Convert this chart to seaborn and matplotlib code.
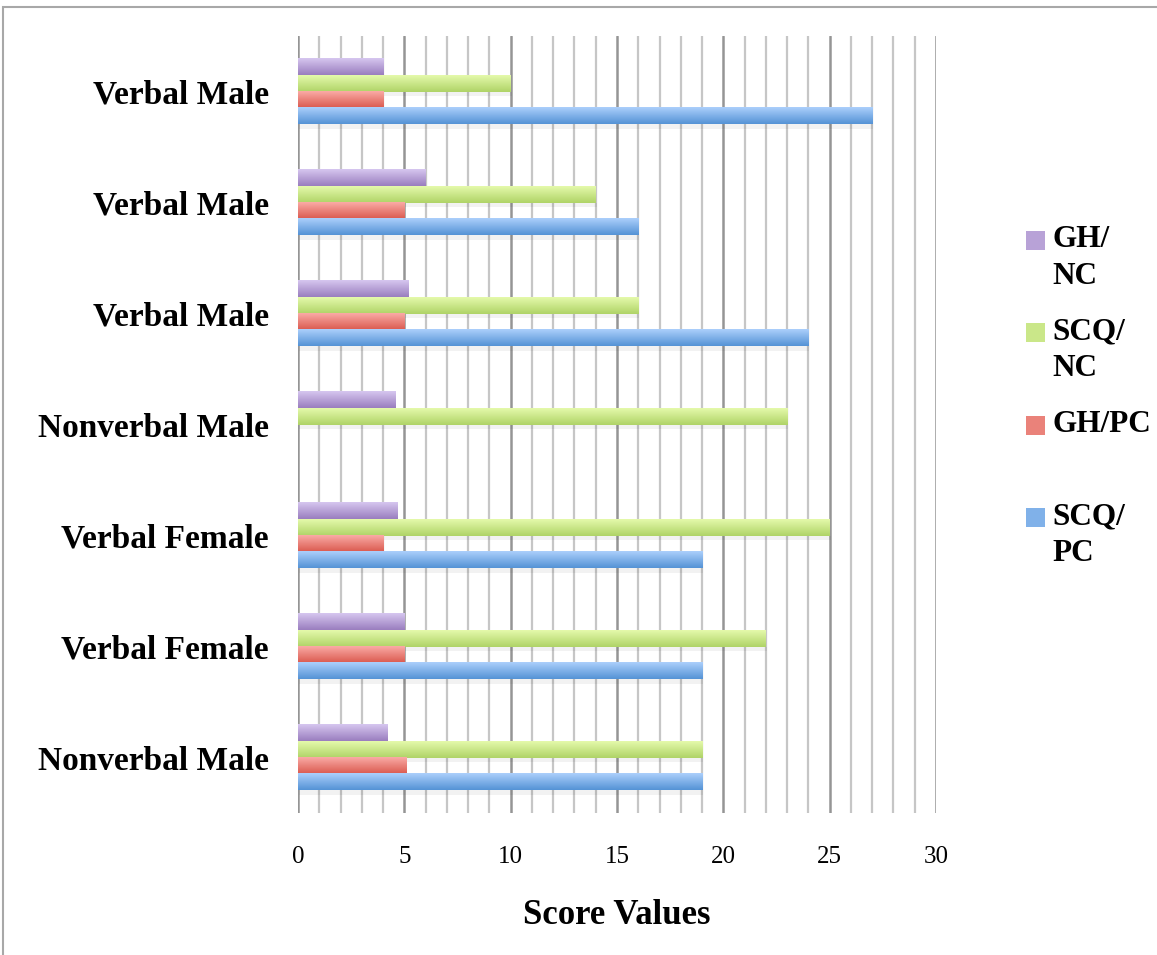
import numpy as np
import pandas as pd
import matplotlib.pyplot as plt
import seaborn as sns
from matplotlib.ticker import MultipleLocator
from matplotlib.patches import Rectangle
from matplotlib.colors import to_rgb

# ==========================================
# DATA
# ==========================================

groups = ["Verbal Male", "Verbal Male", "Verbal Male", "Nonverbal Male",
          "Verbal Female", "Verbal Female", "Nonverbal Male"]
series = ["GH/NC", "SCQ/NC", "GH/PC", "SCQ/PC"]
legend_labels = ["GH/\nNC", "SCQ/\nNC", "GH/PC", "SCQ/\nPC"]

gh_nc = [4, 6, 5.2, 4.6, 4.7, 5, 4.2]
scq_nc = [10, 14, 16, 23, 25, 22, 19]
gh_pc = [4, 5, 5, 0, 4, 5, 5.1]
scq_pc = [27, 16, 24, 0, 19, 19, 19]

x_ticks = [0, 5, 10, 15, 20, 25, 30]

# gradient colours (top, bottom) per series
grad = {
    "GH/NC": ("#d6c6ef", "#9a7ebf"),
    "SCQ/NC": ("#e4f9ab", "#b0d467"),
    "GH/PC": ("#faaaa5", "#da5a4f"),
    "SCQ/PC": ("#abcffb", "#5593d6"),
}

ids = [str(i) for i in range(len(groups))]
df = pd.DataFrame({
    "group": ids * 4,
    "series": np.repeat(series, len(groups)),
    "value": gh_nc + scq_nc + gh_pc + scq_pc,
})

# ==========================================
# PLOT
# ==========================================

sns.set_style("white")
plt.rcParams['font.family'] = ['Liberation Serif', 'DejaVu Serif']
plt.rcParams['text.color'] = 'black'
plt.rcParams['xtick.color'] = 'black'
plt.rcParams['ytick.color'] = 'black'
plt.rcParams['axes.labelcolor'] = 'black'

W, H = 1157, 955
fig = plt.figure(figsize=(W / 100, H / 100), dpi=100)
ax = fig.add_axes([298 / W, 1 - 813 / H, (936 - 298) / W, (813 - 36) / H])

sns.barplot(
    data=df,
    x="value",
    y="group",
    hue="series",
    hue_order=series,
    order=ids,
    orient="h",
    width=0.58,
    gap=0,
    linewidth=0,
    legend=False,
    ax=ax
)

# gradient fill on each bar
for name, cont in zip(series, ax.containers):
    top, bot = grad[name]
    cols = np.linspace(to_rgb(top), to_rgb(bot), 32).reshape(32, 1, 3)
    for bar in cont:
        x0 = bar.get_x()
        w = bar.get_width()
        y0 = bar.get_y()
        h = bar.get_height()
        bar.set_alpha(0)
        if w <= 0:
            continue
        # soft shadow
        ax.add_patch(Rectangle((x0 + 0.05, y0 + h), w, h * 0.3,
                               color="#000000", alpha=0.05, lw=0, zorder=2))
        ax.imshow(cols, extent=(x0, x0 + w, y0 + h, y0), origin="upper",
                  aspect="auto", zorder=3, interpolation="bilinear")

ax.set_xlim(0, 30)
ax.set_ylim(len(groups) - 0.5, -0.5)

ax.set_xticks(x_ticks)
ax.xaxis.set_minor_locator(MultipleLocator(1))
ax.grid(axis="x", which="major", color="#959595", lw=1.8)
ax.grid(axis="x", which="minor", color="#c6c6c6", lw=1.6)
ax.set_axisbelow(True)
for s in ax.spines.values():
    s.set_visible(False)

ax.set_yticks(range(len(groups)))
ax.set_yticklabels(groups, fontsize=24, fontweight="bold")
ax.tick_params(axis="y", length=0, pad=21)
ax.tick_params(axis="x", which="both", length=0, pad=24, labelsize=18)

ax.set_ylabel("")
ax.set_xlabel("Score Values", fontsize=25, fontweight="bold", labelpad=22)

# legend
sq_tops = [231, 323, 416, 508]
for name, lab, yt in zip(series, legend_labels, sq_tops):
    top, bot = grad[name]
    mid = tuple((np.array(to_rgb(top)) + np.array(to_rgb(bot))) / 2)
    fig.patches.append(Rectangle((1026 / W, 1 - (yt + 19) / H), 19 / W, 19 / H,
                                 transform=fig.transFigure, color=mid, lw=0))
    fig.text(1052 / W, 1 - (yt - 6) / H, lab, fontsize=22.5, fontweight="bold",
             va="top", ha="left", linespacing=1.35)

# outer chart border
fig.patches.append(Rectangle((3 / W, -0.1), 2, 1.1 - 7 / H,
                             transform=fig.transFigure, fill=False,
                             ec="#a8a8a8", lw=1.5))

fig.savefig("out.png", dpi=100)
